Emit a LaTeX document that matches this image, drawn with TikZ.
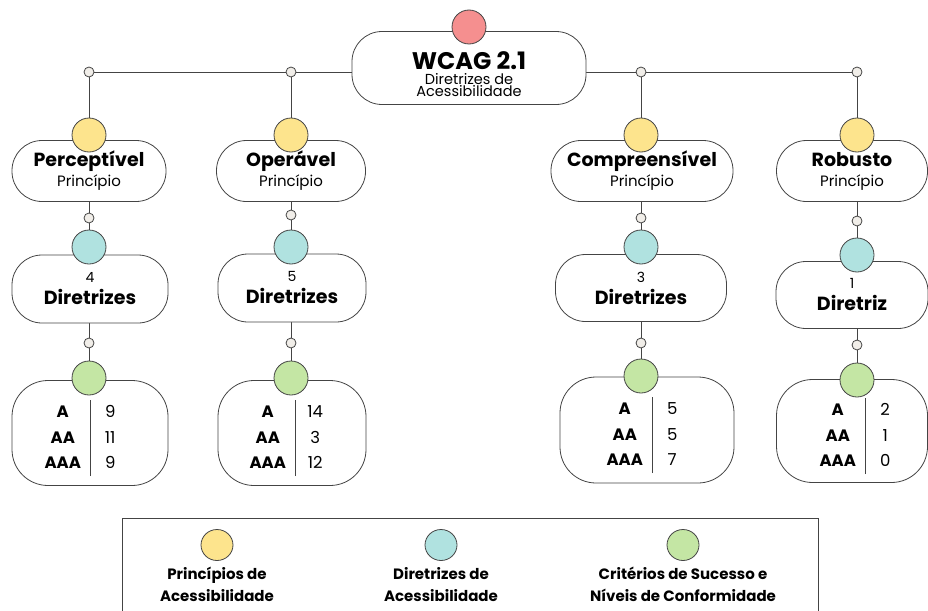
\documentclass[tikz,border=0pt]{standalone}
\usepackage{fontspec}
\setmainfont{Poppins}
\usetikzlibrary{backgrounds,shapes.geometric}

\definecolor{edgegray}{RGB}{68,68,68}
\definecolor{wcagred}{RGB}{245,143,143}
\definecolor{prinyellow}{RGB}{253,228,141}
\definecolor{dirteal}{RGB}{176,226,224}
\definecolor{critgreen}{RGB}{196,230,164}
\definecolor{jointfill}{RGB}{241,238,233}

\newcommand\bigname{\fontsize{19}{20}\selectfont\bfseries}
% #1 = twice the shift of the table to the right
\newcommand\levels[4][0pt]{%
  \hspace*{#1}\raisebox{-5pt}[\height][\depth]{\fontsize{16.5}{19.6}\selectfont\renewcommand\arraystretch{1.3}%
  \begin{tabular}{@{}c@{\hspace{8pt}{\color{edgegray}\vline}\hspace{6pt}}c@{}}
    \makebox[38pt]{\textbf{A}} & \makebox[28pt]{#2}\\
    \textbf{AA} & #3\\
    \textbf{AAA} & #4
  \end{tabular}}\hspace*{12pt}}

\begin{document}
\begin{tikzpicture}[x=1pt,y=-1pt,
  pill/.style={draw=edgegray, line width=0.8pt, fill=white, rounded corners=30pt,
    inner sep=0pt, align=center},
  rootbox/.style={pill, font=\fontsize{14.5}{13}\selectfont},
  prinbox/.style={pill, font=\fontsize{15}{20}\selectfont},
  dirbox/.style={pill, font=\fontsize{14}{22}\selectfont},
  critbox/.style={draw=edgegray, line width=0.8pt, fill=white, rounded corners=36pt,
    inner sep=0pt, align=center},
  dot/.style={circle, draw=edgegray, line width=0.8pt, minimum size=34pt, inner sep=0pt},
  joint/.style={circle, draw=edgegray, line width=0.8pt, fill=jointfill,
    minimum size=10pt, inner sep=0pt},
  link/.style={draw=edgegray, line width=0.8pt},
  legdot/.style={ellipse, draw=edgegray, line width=0.8pt, minimum width=32pt,
    minimum height=31pt, inner sep=0pt},
  legtext/.style={align=center, font=\fontsize{15}{22}\selectfont\bfseries}
]

	\useasboundingbox (0,0) rectangle (928,610);

	% ---- root

	\node[rootbox, minimum width=234pt, minimum height=73pt] (wcag) at (469,68)
	{\raisebox{-8pt}[\height][\depth]{\begin{tabular}{@{}c@{}}
	  {\fontsize{24}{24}\selectfont\bfseries WCAG 2.1}\\[0pt]
	  Diretrizes de\\[-3pt]
	  Acessibilidade
	\end{tabular}}};
	\node[dot, fill=wcagred] (Rd) at (469,27) {};

	% ---- junctions on the top line

	\node[joint] (J1) at (89,72) {};
	\node[joint] (J2) at (291,72) {};
	\node[joint] (J3) at (641,72) {};
	\node[joint] (J4) at (857,72) {};

	% ---- principles

	\node[prinbox, minimum width=154pt, minimum height=61pt] (P1) at (89,171)
	{{\bigname Perceptível}\\ Princípio};
	\node[prinbox, minimum width=149pt, minimum height=61pt] (P2) at (291,171)
	{{\bigname Operável}\\ Princípio};
	\node[prinbox, minimum width=182pt, minimum height=61pt] (P3) at (642,171)
	{{\bigname Compreensível}\\ Princípio};
	\node[prinbox, minimum width=151pt, minimum height=61pt] (P4) at (852,171)
	{{\bigname Robusto}\\ Princípio};

	\node[dot, fill=prinyellow] (Y1) at (89,135) {};
	\node[dot, fill=prinyellow] (Y2) at (291,135) {};
	\node[dot, fill=prinyellow] (Y3) at (641,135) {};
	\node[dot, fill=prinyellow] (Y4) at (857,135) {};

	\node[joint] (K1) at (89,218) {};
	\node[joint] (K2) at (291,215) {};
	\node[joint] (K3) at (641,218) {};
	\node[joint] (K4) at (857,221) {};

	% ---- guidelines

	\node[dirbox, minimum width=156pt, minimum height=68pt] (D1) at (90,289)
	{4\\ {\bigname Diretrizes}};
	\node[dirbox, minimum width=148pt, minimum height=68pt] (D2) at (292,288)
	{5\\ {\bigname Diretrizes}};
	\node[dirbox, minimum width=171pt, minimum height=67pt] (D3) at (641,288)
	{3\\ {\bigname Diretrizes}};
	\node[dirbox, minimum width=152pt, minimum height=67pt] (D4) at (852,295)
	{1\\ {\bigname Diretriz}};

	\node[dot, fill=dirteal] (T1) at (89,247) {};
	\node[dot, fill=dirteal] (T2) at (291,247) {};
	\node[dot, fill=dirteal] (T3) at (641,247) {};
	\node[dot, fill=dirteal] (T4) at (857,255) {};

	\node[joint] (L1) at (89,343) {};
	\node[joint] (L2) at (291,343) {};
	\node[joint] (L3) at (641,343) {};
	\node[joint] (L4) at (857,345) {};

	% ---- success criteria

	\node[critbox, minimum width=156pt, minimum height=105pt] (C1) at (90,433) {\levels{9}{11}{9}};
	\node[critbox, minimum width=148pt, minimum height=105pt] (C2) at (292,433) {\levels[6pt]{14}{3}{12}};
	\node[critbox, minimum width=174pt, minimum height=106pt] (C3) at (647,430) {\levels[10pt]{5}{5}{7}};
	\node[critbox, minimum width=151pt, minimum height=103pt] (C4) at (852,431) {\levels[26pt]{2}{1}{0}};

	\node[dot, fill=critgreen] (G1) at (89,378) {};
	\node[dot, fill=critgreen] (G2) at (291,378) {};
	\node[dot, fill=critgreen] (G3) at (641,376) {};
	\node[dot, fill=critgreen] (G4) at (857,380) {};

	% ---- connectors

	\begin{pgfonlayer}{background}
		\draw[link] (J1) -- (J2) -- (J3) -- (J4);
		\foreach \i in {1,...,4} {
			\draw[link] (J\i) -- (Y\i);
			\draw[link] (K\i |- P\i.south) -- (K\i) -- (T\i);
			\draw[link] (L\i |- D\i.south) -- (L\i) -- (G\i);
		}
	\end{pgfonlayer}

	% ---- legend

	\draw[link] (122,518) rectangle (818,625);

	\node[legdot, fill=prinyellow] (LY) at (217,545) {};
	\node[legdot, fill=dirteal] (LT) at (441,545) {};
	\node[legdot, fill=critgreen] (LG) at (683,545) {};

	\node[legtext, below=3pt] (LYtext) at (LY.south) {Princípios de\\Acessibilidade};
	\node[legtext, below=3pt] (LTtext) at (LT.south) {Diretrizes de\\Acessibilidade};
	\node[legtext, below=3pt] (LGtext) at (LG.south) {Critérios de Sucesso e\\Níveis de Conformidade};

\end{tikzpicture}
\end{document}
